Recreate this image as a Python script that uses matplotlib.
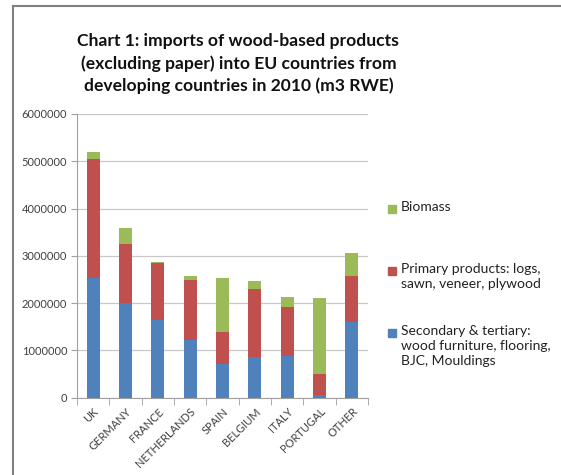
import numpy as np
import matplotlib
matplotlib.use('Agg')
import matplotlib.pyplot as plt
from matplotlib.patches import Rectangle
from matplotlib.lines import Line2D

# values (m3 RWE)
countries = ['UK', 'GERMANY', 'FRANCE', 'NETHERLANDS', 'SPAIN', 'BELGIUM', 'ITALY', 'PORTUGAL', 'OTHER']
secondary = [2540000, 2000000, 1640000, 1220000, 700000, 850000, 880000, 50000, 1600000]
primary = [2510000, 1250000, 1200000, 1270000, 680000, 1440000, 1030000, 450000, 970000]
biomass = [150000, 340000, 20000, 80000, 1150000, 170000, 210000, 1600000, 490000]

labels = ['Biomass',
          'Primary products: logs,\nsawn, veneer, plywood',
          'Secondary & tertiary:\nwood furniture, flooring,\nBJC, Mouldings']
colors = ['#9BBB59', '#C0504D', '#4F81BD']

plt.rcParams['font.family'] = ['Lato', 'DejaVu Sans']

fig = plt.figure(figsize=(5.61, 4.75), dpi=100)
ax = fig.add_axes([0.137, 0.163, 0.519, 0.597])

x = np.arange(len(countries))
sec = np.array(secondary)
pri = np.array(primary)
bio = np.array(biomass)
ax.bar(x, sec, width=0.4, color=colors[2], zorder=3)
ax.bar(x, pri, width=0.4, bottom=sec, color=colors[1], zorder=3)
ax.bar(x, bio, width=0.4, bottom=sec + pri, color=colors[0], zorder=3)

ax.set_xlim(-0.5, len(countries) - 0.5)
ax.set_ylim(0, 6000000)
ax.set_yticks(np.arange(0, 6000001, 1000000))
ax.set_yticklabels([str(v) for v in range(0, 6000001, 1000000)], fontsize=8, color='#404040')
ax.yaxis.grid(True, color='#c8c8c8', linewidth=0.9, zorder=0)

ax.set_xticks(x)
ax.set_xticklabels(countries, rotation=45, ha='right', rotation_mode='anchor', fontsize=8, color='#404040')
ax.set_xticks(np.arange(-0.5, len(countries), 1), minor=True)
ax.tick_params(axis='x', which='major', length=0, pad=6)
ax.tick_params(axis='x', which='minor', length=5, color='#a0a0a0', direction='out')
ax.tick_params(axis='y', length=4, color='#a0a0a0', direction='out', pad=3)

for side in ['top', 'right']:
    ax.spines[side].set_visible(False)
ax.spines['left'].set_color('#a0a0a0')
ax.spines['bottom'].set_color('#a0a0a0')

fig.text(0.425, 0.866, 'Chart 1: imports of wood-based products\n(excluding paper) into EU countries from\n'
         'developing countries in 2010 (m3 RWE)', ha='center', va='center',
         fontsize=12.6, fontweight='bold', linespacing=1.45, color='#111111')

# legend drawn by hand to match the uneven spacing
W, H = 561, 475
for i, (lab, col) in enumerate(zip(labels, colors)):
    yc = 209 + i * 62
    fig.patches.append(Rectangle((388 / W, 1 - (yc + 4) / H), 8 / W, 8 / H,
                                 transform=fig.transFigure, color=col))
    fig.text(401 / W, 1 - (yc - 8) / H, lab, ha='left', va='top', fontsize=10,
             color='#222222', linespacing=1.3)

# outer frame lines
fig.add_artist(Line2D([13 / W, 13 / W], [0, 1 - 6 / H], transform=fig.transFigure, color='#808080', lw=1.5))
fig.add_artist(Line2D([13 / W, 1.02], [1 - 6 / H, 1 - 6 / H], transform=fig.transFigure, color='#808080', lw=1.5))

fig.savefig('out.png', dpi=100)
